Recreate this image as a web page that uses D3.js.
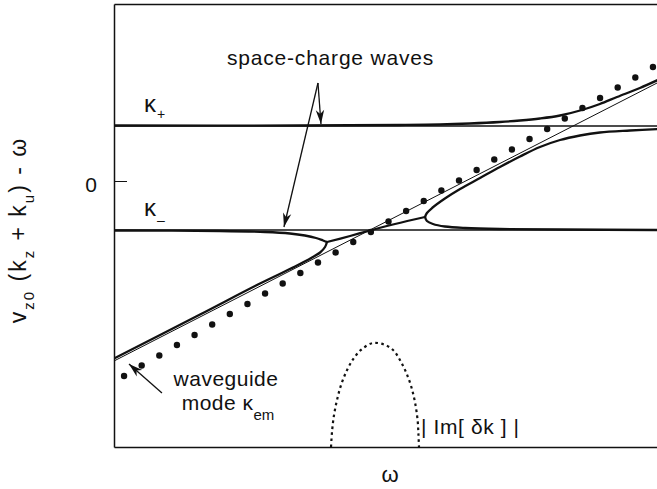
<!DOCTYPE html>
<html>
<head>
<meta charset="utf-8">
<script src="https://cdn.jsdelivr.net/npm/d3@7"></script>
<style>
  html, body { margin: 0; padding: 0; background: #fff; }
  svg { display: block; }
  text { font-family: "Liberation Sans", Arial, Helvetica, sans-serif; fill: #111; }
</style>
</head>
<body>
<svg id="chart" width="657" height="489"></svg>
<script>
// Beam–waveguide coupling: real parts of the coupled wavenumbers versus frequency,
// with the growth rate |Im[δk]| of the unstable pair drawn along the bottom.

// space-charge wave levels
const kappaPlus = 1.10;
const kappaMinus = -0.98;

// vertical axis tick
const yTicks = [0];
const yTickLabels = ["0"];

// uncoupled waveguide mode κ_em
const omegaEm = [-0.57, 30.4];
const kEm = [-3.60, 1.99];

// waveguide mode, second estimate (dot markers)
const omegaDots = [0, 1, 2, 3, 4, 5, 6, 7, 8, 9, 10, 11, 12, 13, 14, 15,
                   16, 17, 18, 19, 20, 21, 22, 23, 24, 25, 26, 27, 28, 29, 30];
const kDots = [-3.90, -3.69, -3.49, -3.28, -3.08, -2.87, -2.66, -2.46, -2.25, -2.05,
               -1.84, -1.63, -1.43, -1.22, -1.02, -0.81, -0.60, -0.40, -0.19, 0.01,
               0.22, 0.43, 0.63, 0.84, 1.04, 1.25, 1.46, 1.66, 1.87, 2.07, 2.28];

// coupled branch leaving κ+ and joining the waveguide mode (upper)
const omegaUpper = [-0.57, 9.98, 15.65, 17.92, 19.62, 21.32, 22.46, 23.59, 24.73, 25.97, 26.99, 27.96, 29.26, 30.4];
const kUpper     = [1.11, 1.11, 1.12, 1.13, 1.15, 1.18, 1.21, 1.25, 1.31, 1.42, 1.54, 1.68, 1.86, 2.04];

// branch rising from the upper branch point toward κ+
const omegaRise = [17.07, 17.18, 17.47, 18.20, 19.06, 20.19, 21.32, 22.46, 23.59, 24.73, 25.86, 26.99, 28.70, 30.4];
const kRise     = [-0.72, -0.64, -0.54, -0.35, -0.16, 0.06, 0.28, 0.49, 0.68, 0.82, 0.91, 0.97, 1.01, 1.04];

// shared real part of the complex (unstable) pair
const omegaPair = [11.51, 12.82, 13.95, 15.37, 17.07];
const kPair     = [-1.22, -1.10, -0.99, -0.86, -0.72];

// branch settling back onto κ- on the right
const omegaSettle = [17.07, 17.18, 17.52, 18.20, 19.34, 21.32, 24.73, 30.4];
const kSettle     = [-0.72, -0.80, -0.86, -0.91, -0.94, -0.96, -0.97, -0.98];

// branch following κ- on the left
const omegaSlow = [-0.57, 5.44, 8.00, 9.41, 10.26, 10.89, 11.29, 11.51];
const kSlow     = [-0.99, -1.00, -1.02, -1.05, -1.09, -1.14, -1.19, -1.22];

// branch following the waveguide mode on the left
const omegaFast = [-0.57, 4.31, 7.71, 9.70, 10.66, 11.12, 11.40, 11.51];
const kFast     = [-3.55, -2.67, -2.05, -1.71, -1.53, -1.43, -1.32, -1.22];

// growth rate |Im[δk]|
const omegaGrowth = [11.74, 11.80, 11.91, 12.08, 12.31, 12.65, 13.04, 13.50, 14.12,
                     14.74, 15.26, 15.65, 15.99, 16.28, 16.50, 16.65, 16.70, 16.73];
const imGrowth    = [0, 0.32, 0.64, 0.94, 1.24, 1.54, 1.78, 1.96, 2.08,
                     2.05, 1.94, 1.74, 1.50, 1.22, 0.90, 0.54, 0.24, 0];

const plot = { left: 114, right: 660, top: 4, bottom: 447 };

const svg = d3.select("#chart");

const x = d3.scaleLinear().domain([-0.57, 30.4]).range([plot.left, plot.right]);
const y = d3.scaleLinear().domain([-5.32, 3.54]).range([plot.bottom, plot.top]);
const yIm = d3.scaleLinear().domain([0, 8.86]).range([plot.bottom, plot.top]);

const ink = "#111";

const defs = svg.append("defs");
defs.append("clipPath").attr("id", "plotClip")
  .append("rect")
  .attr("x", plot.left).attr("y", plot.top)
  .attr("width", plot.right - plot.left).attr("height", plot.bottom - plot.top);

defs.append("marker")
  .attr("id", "head")
  .attr("viewBox", "-15 -5 16 10")
  .attr("refX", 0).attr("refY", 0)
  .attr("markerWidth", 16).attr("markerHeight", 10)
  .attr("markerUnits", "userSpaceOnUse")
  .attr("orient", "auto")
  .append("path")
  .attr("d", "M0,0 L-14,-4.2 L-10,0 L-14,4.2 Z")
  .attr("fill", ink);

const g = svg.append("g").attr("clip-path", "url(#plotClip)");

const zip = (xs, ys) => xs.map((v, i) => [v, ys[i]]);
const line = d3.line().x(d => x(d[0])).y(d => y(d[1]));
const curve = d3.line().x(d => x(d[0])).y(d => y(d[1])).curve(d3.curveCatmullRom.alpha(0.5));

// space-charge levels κ+ and κ-
g.selectAll("line.level").data([kappaPlus, kappaMinus]).join("line")
  .attr("class", "level")
  .attr("x1", plot.left).attr("x2", plot.right)
  .attr("y1", d => y(d)).attr("y2", d => y(d))
  .attr("stroke", ink).attr("stroke-width", 1.3);

// uncoupled waveguide mode
g.append("path")
  .attr("d", line(zip(omegaEm, kEm)))
  .attr("fill", "none").attr("stroke", ink).attr("stroke-width", 1);

// coupled branches
const branches = [
  zip(omegaUpper, kUpper),
  zip(omegaRise, kRise),
  zip(omegaPair, kPair),
  zip(omegaSettle, kSettle),
  zip(omegaSlow, kSlow),
  zip(omegaFast, kFast)
];
g.selectAll("path.branch").data(branches).join("path")
  .attr("class", "branch")
  .attr("d", d => curve(d))
  .attr("fill", "none").attr("stroke", ink).attr("stroke-width", 2.3)
  .attr("stroke-linejoin", "round").attr("stroke-linecap", "round");

// dot markers
g.selectAll("circle.dot").data(zip(omegaDots, kDots)).join("circle")
  .attr("class", "dot")
  .attr("cx", d => x(d[0])).attr("cy", d => y(d[1]))
  .attr("r", 3.2).attr("fill", ink);

// growth rate curve
g.append("path")
  .attr("d", d3.line().x(d => x(d[0])).y(d => yIm(d[1])).curve(d3.curveCatmullRom.alpha(0.5))(zip(omegaGrowth, imGrowth)))
  .attr("fill", "none").attr("stroke", ink).attr("stroke-width", 2.2)
  .attr("stroke-dasharray", "2.6,3.4");

// frame: left axis with the single zero tick, top and bottom rules
const yAxis = d3.axisLeft(y).tickValues(yTicks).tickFormat((d, i) => yTickLabels[i])
  .tickSizeInner(-13).tickSizeOuter(0).tickPadding(17);
const ya = svg.append("g").attr("transform", `translate(${plot.left},0)`).call(yAxis);
ya.select(".domain").attr("stroke", ink).attr("stroke-width", 1.5);
ya.selectAll(".tick line").attr("stroke", ink).attr("stroke-width", 1);
ya.selectAll(".tick text")
  .attr("font-family", "'Liberation Sans', Arial, sans-serif")
  .attr("font-size", 21).attr("fill", ink).attr("dy", "0.5em");

const xAxisB = d3.axisBottom(x).tickValues([]).tickSizeOuter(0);
svg.append("g").attr("transform", `translate(0,${plot.bottom})`).call(xAxisB)
  .select(".domain").attr("stroke", ink).attr("stroke-width", 1.5);
const xAxisT = d3.axisTop(x).tickValues([]).tickSizeOuter(0);
svg.append("g").attr("transform", `translate(0,${plot.top})`).call(xAxisT)
  .select(".domain").attr("stroke", ink).attr("stroke-width", 1.5);

// annotation arrows
const arrow = (x1, y1, x2, y2) => svg.append("line")
  .attr("x1", x1).attr("y1", y1).attr("x2", x2).attr("y2", y2)
  .attr("stroke", ink).attr("stroke-width", 1.3)
  .attr("marker-end", "url(#head)");

arrow(x(11.0), y(1.96), x(11.17), y(1.14));
arrow(x(11.0), y(1.96), x(9.07), y(-0.92));
arrow(x(2.15), y(-4.24), x(0.28), y(-3.66));

// labels
svg.append("text").attr("x", 227).attr("y", 65)
  .attr("font-size", 21).attr("letter-spacing", 0.8)
  .text("space-charge waves");

const kLabel = (k, sub, subDy) => {
  const t = svg.append("text").attr("x", 144).attr("y", y(k) - 14).attr("font-size", 24);
  t.append("tspan").text("κ");
  t.append("tspan").attr("dy", subDy).attr("dx", 1).attr("font-size", 14).text(sub);
};
kLabel(kappaPlus, "+", 7);
kLabel(kappaMinus, "–", 9);

svg.append("text").attr("font-size", 21).attr("letter-spacing", 0.5).attr("text-anchor", "middle")
  .attr("x", 226).attr("y", 385.5).text("waveguide");
const wg2 = svg.append("text").attr("font-size", 21).attr("letter-spacing", 0.5).attr("text-anchor", "middle")
  .attr("x", 228).attr("y", 410);
wg2.append("tspan").text("mode κ");
wg2.append("tspan").attr("dy", 10).attr("font-size", 15).attr("letter-spacing", 0).text("em");

svg.append("text").attr("x", 421).attr("y", 434).attr("font-size", 21)
  .attr("letter-spacing", 0.6)
  .text("| Im[ δk ] |");

// axis titles
svg.append("text")
  .attr("x", 390).attr("y", 482)
  .attr("text-anchor", "middle")
  .attr("font-family", "'Liberation Serif', 'Times New Roman', serif")
  .attr("font-size", 22)
  .text("ω");

const yt = svg.append("text")
  .attr("transform", "translate(26,230) rotate(-90)")
  .attr("text-anchor", "middle").attr("font-size", 23).attr("letter-spacing", 2.0);
yt.append("tspan").text("v");
yt.append("tspan").attr("dy", 8).attr("font-size", 15).text("z0");
yt.append("tspan").attr("dy", -8).text(" (k");
yt.append("tspan").attr("dy", 8).attr("font-size", 15).text("z");
yt.append("tspan").attr("dy", -8).text(" + k");
yt.append("tspan").attr("dy", 8).attr("font-size", 15).text("u");
yt.append("tspan").attr("dy", -8).text(") - ω");
</script>
</body>
</html>
